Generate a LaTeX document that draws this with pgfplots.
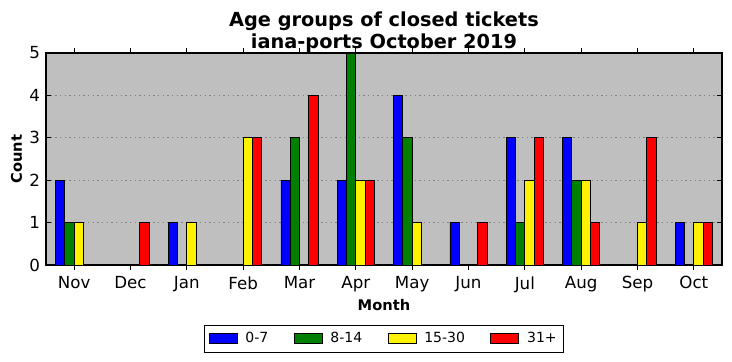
\documentclass[border=0pt]{standalone}
\usepackage{pgfplots}
\pgfplotsset{compat=1.18}
\usepackage{fontspec}
\setmainfont{DejaVu Sans}
\definecolor{bgc}{RGB}{191,191,191}
\definecolor{mgreen}{RGB}{0,128,0}
\begin{document}
\begin{tikzpicture}
\path[use as bounding box] (-34.5pt,-72pt) rectangle (514.5pt,198.75pt);
\begin{axis}[
  at={(0,0)}, anchor=south west,
  scale only axis, width=507pt, height=159pt,
  xmin=-0.5, xmax=11.5, ymin=0, ymax=5,
  axis background/.style={fill=bgc},
  axis line style={black, line width=0.8pt},
  xtick={0,...,11},
  xticklabels={Nov,Dec,Jan,Feb,Mar,Apr,May,Jun,Jul,Aug,Sep,Oct},
  ytick={0,...,5},
  tick align=inside, tick pos=both,
  major tick length=4pt,
  tick style={black, line width=0.6pt},
  ymajorgrids,
  grid style={gray, dash pattern=on 1pt off 2.5pt, line width=0.5pt},
  /pgf/number format/assume math mode=true,
  ticklabel style={font=\fontsize{12.5}{14}\selectfont},
  xticklabel style={yshift=-1pt},
  yticklabel style={xshift=-1pt},
  xlabel={\bfseries Month},
  ylabel={\bfseries Count},
  label style={font=\fontsize{11}{13}\selectfont},
  xlabel style={yshift=2pt},
  ylabel style={yshift=-1.5pt},
  title={\textbf{Age groups of closed tickets}\\\textbf{iana-ports October 2019}},
  title style={font=\fontsize{14.5}{17}\selectfont, align=center, yshift=-9.5pt},
  ybar, bar width=0.165,
  every axis plot/.append style={draw=black, line width=0.6pt},
  legend columns=4,
  legend style={at={(0.5,-0.347)}, anchor=center, draw=black, line width=0.6pt,
    font=\fontsize{10.5}{12}\selectfont, inner xsep=3pt, inner ysep=3.5pt,
    /tikz/every odd column/.append style={column sep=4pt},
    /tikz/every even column/.append style={column sep=17pt}},
  legend image code/.code={\draw[#1, line width=0.6pt] (0pt,-3.75pt) rectangle (21pt,3.75pt);},
]
\addplot[fill=blue, bar shift=-0.2475] coordinates {(0,2)(1,0)(2,1)(3,0)(4,2)(5,2)(6,4)(7,1)(8,3)(9,3)(10,0)(11,1)};
\addplot[fill=mgreen, bar shift=-0.0825] coordinates {(0,1)(1,0)(2,0)(3,0)(4,3)(5,5)(6,3)(7,0)(8,1)(9,2)(10,0)(11,0)};
\addplot[fill=yellow, bar shift=0.0825] coordinates {(0,1)(1,0)(2,1)(3,3)(4,0)(5,2)(6,1)(7,0)(8,2)(9,2)(10,1)(11,1)};
\addplot[fill=red, bar shift=0.2475] coordinates {(0,0)(1,1)(2,0)(3,3)(4,4)(5,2)(6,0)(7,1)(8,3)(9,1)(10,3)(11,1)};
\legend{0-7,8-14,15-30,31+}
\end{axis}
\end{tikzpicture}
\end{document}
